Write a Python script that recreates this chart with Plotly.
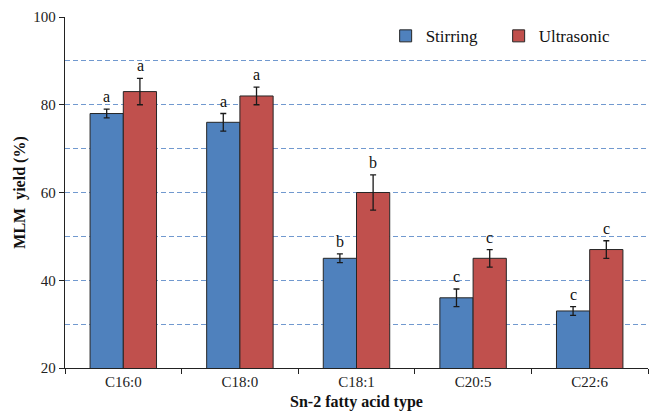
import plotly.graph_objects as go

# Mean MLM yield (%) by sn-2 fatty acid, with standard deviations
categories = ["C16:0", "C18:0", "C18:1", "C20:5", "C22:6"]
stirring = [78, 76, 45, 36, 33]
stirring_err = [1, 2, 1, 2, 1]
ultrasonic = [83, 82, 60, 45, 47]
ultrasonic_err = [3, 2, 4, 2, 2]
stirring_letters = ["a", "a", "b", "c", "c"]
ultrasonic_letters = ["a", "a", "b", "c", "c"]

SERIF = "Liberation Serif, Times New Roman, serif"

fig = go.Figure()
fig.add_trace(go.Bar(
    name="Stirring", x=categories, y=stirring,
    marker=dict(color="#4F81BD", line=dict(color="#262626", width=1)),
    error_y=dict(type="data", array=stirring_err, color="#1a1a1a", thickness=1.3, width=3),
))
fig.add_trace(go.Bar(
    name="Ultrasonic", x=categories, y=ultrasonic,
    marker=dict(color="#C0504D", line=dict(color="#262626", width=1)),
    error_y=dict(type="data", array=ultrasonic_err, color="#1a1a1a", thickness=1.3, width=3),
))

# significance letters above each error bar
for cat, v, e, t in zip(categories, stirring, stirring_err, stirring_letters):
    fig.add_annotation(x=cat, y=v + e, text=t, showarrow=False, xshift=-16.7,
                       yanchor="bottom", yshift=2, font=dict(family=SERIF, size=16, color="#111"))
for cat, v, e, t in zip(categories, ultrasonic, ultrasonic_err, ultrasonic_letters):
    fig.add_annotation(x=cat, y=v + e, text=t, showarrow=False, xshift=16.7,
                       yanchor="bottom", yshift=2, font=dict(family=SERIF, size=16, color="#111"))

fig.update_layout(
    width=649, height=412,
    margin=dict(l=65, r=1, t=17, b=44, autoexpand=False),
    plot_bgcolor="white", paper_bgcolor="white",
    barmode="group", bargap=0.43, bargroupgap=0,
    font=dict(family=SERIF, size=15, color="#222"),
    legend=dict(orientation="h", x=0.55, y=0.945, xanchor="left", yanchor="middle",
                font=dict(family=SERIF, size=17, color="#111"),
                entrywidth=68, entrywidthmode="pixels",
                bgcolor="rgba(255,255,255,0)", itemwidth=30),
    xaxis=dict(
        title=dict(text="<b>Sn-2 fatty acid type</b>", font=dict(family=SERIF, size=16, color="#111"), standoff=6),
        showline=True, linecolor="#222", linewidth=1.3,
        ticks="outside", tickson="boundaries", ticklen=5, tickcolor="#222",
        tickfont=dict(family=SERIF, size=15, color="#222"),
    ),
    yaxis=dict(
        range=[20, 100], dtick=20, tick0=20,
        title=dict(text="<b>MLM\u00a0\u00a0yield (%)</b>", font=dict(family=SERIF, size=16, color="#111"), standoff=3),
        showline=True, linecolor="#222", linewidth=1.3,
        ticks="outside", ticklen=5, tickcolor="#222",
        tickfont=dict(family=SERIF, size=15, color="#222"),
        showgrid=True, gridcolor="#7199cf", griddash="5px,3px", gridwidth=1,
        minor=dict(dtick=10, showgrid=True, gridcolor="#7199cf", griddash="5px,3px", gridwidth=1),
        zeroline=False,
    ),
)

fig.write_html("out.html")
